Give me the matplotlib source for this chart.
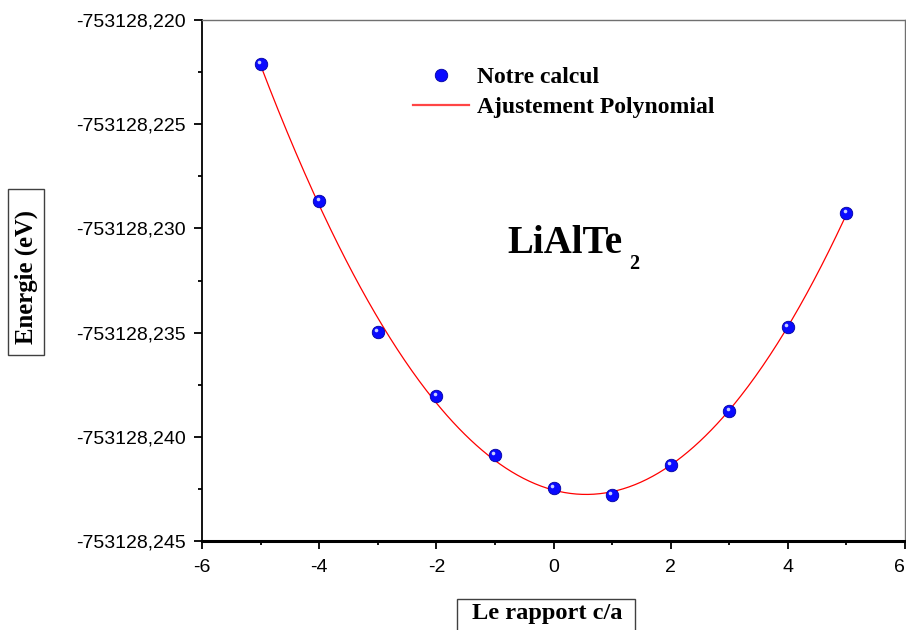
import numpy as np
import matplotlib
matplotlib.use("Agg")
import matplotlib.pyplot as plt
from matplotlib.ticker import MultipleLocator, FuncFormatter
from matplotlib.transforms import offset_copy
from matplotlib.lines import Line2D
from matplotlib.patches import Rectangle

# c/a ratio steps and computed total energies (eV)
ratio = [-5, -4, -3, -2, -1, 0, 1, 2, 3, 4, 5]
energy = [-753128.22211, -753128.22869, -753128.23499, -753128.23806,
          -753128.24089, -753128.24248, -753128.24280, -753128.24135,
          -753128.23877, -753128.23475, -753128.22927]

x_ticks = [-6, -4, -2, 0, 2, 4, 6]
y_ticks = [-753128.245, -753128.240, -753128.235, -753128.230,
           -753128.225, -753128.220]

serif_bold = dict(family="Liberation Serif", weight="bold")
W, H = 906, 630

fig = plt.figure(figsize=(9.06, 6.3), dpi=100)
ax = fig.add_axes([202 / W, 1 - 541 / H, (905 - 202) / W, (541 - 20) / H])

# polynomial fit through the computed points
xr = np.array(ratio, dtype=float)
yr = np.array(energy, dtype=float)
y0 = yr.mean()
coef = np.polyfit(xr, yr - y0, 3)
xf = np.linspace(xr.min(), xr.max(), 400)
yf = np.polyval(coef, xf) + y0
ax.plot(xf, yf, color="#ff0000", lw=0.9, zorder=2)

# blue spheres with a small highlight
ax.plot(ratio, energy, "o", ms=9, color="#0a0aff", mec="#0000a0", mew=0.6, zorder=3)
hl = offset_copy(ax.transData, fig=fig, x=-1.6, y=2.0, units="dots")
ax.plot(ratio, energy, "o", ms=2.6, color="#c8d0ff", mec="none", transform=hl, zorder=4)

ax.set_xlim(-6, 6)
ax.set_ylim(-753128.245, -753128.220)
ax.set_xticks(x_ticks)
ax.set_yticks(y_ticks)
ax.xaxis.set_minor_locator(MultipleLocator(1))
ax.yaxis.set_minor_locator(MultipleLocator(0.0025))
ax.xaxis.set_major_formatter(FuncFormatter(lambda v, p: f"{v:.0f}".replace("\u2212", "-")))
ax.yaxis.set_major_formatter(FuncFormatter(lambda v, p: f"{v:.3f}".replace(".", ",")))

ax.tick_params(which="both", direction="out", top=False, right=False, width=1.3,
               labelsize=14, colors="black")
ax.tick_params(which="major", length=5.8)
ax.tick_params(which="minor", length=3)
ax.tick_params(axis="y", pad=6)
ax.tick_params(axis="x", pad=7)
for lab in ax.get_xticklabels() + ax.get_yticklabels():
    lab.set_family("Liberation Sans")
# keep the last x label inside the figure edge
ax.get_xticklabels()[-1].set_horizontalalignment("right")

ax.spines["left"].set_linewidth(1.3)
ax.spines["bottom"].set_linewidth(2.2)
ax.spines["top"].set_linewidth(1.0)
ax.spines["top"].set_color("#707070")
ax.spines["right"].set_linewidth(1.0)
ax.spines["right"].set_color("#707070")

# legend
handles = [Line2D([], [], ls="none", marker="o", ms=9, color="#0a0aff", mec="#0000a0", mew=0.6),
           Line2D([], [], color="#ff4545", lw=1.6)]
leg = ax.legend(handles, ["Notre calcul", "Ajustement Polynomial"],
                loc="upper left", bbox_to_anchor=(0.2868, 0.928), frameon=False,
                prop=dict(size=17, **serif_bold), handlelength=2.35,
                handletextpad=0.35, labelspacing=0.33, borderaxespad=0)

# compound label
ax.text(507, H - 253, "LiAlTe", transform=None, fontsize=28, ha="left",
        va="baseline", **serif_bold)
ax.text(629, H - 269, "2", transform=None, fontsize=14.5, ha="left",
        va="baseline", **serif_bold)


def boxed_label(x0, y0, x1, y1):
    """Thin frame around an axis title, given in pixels from the top-left."""
    fig.patches.append(Rectangle((x0 / W, 1 - y1 / H), (x1 - x0) / W, (y1 - y0) / H,
                                 transform=fig.transFigure, fill=False,
                                 ec="#404040", lw=1.0))


boxed_label(8, 189, 44, 355)
fig.text(26.5 / W, 1 - 276.5 / H, "Energie (eV)", rotation=90, ha="center",
         va="center", fontsize=17.8, **serif_bold)
boxed_label(457, 599, 635, 640)
fig.text(547 / W, 1 - 619 / H, "Le rapport c/a", ha="center", va="baseline",
         fontsize=17.6, **serif_bold)

fig.savefig("out.png", dpi=100)
